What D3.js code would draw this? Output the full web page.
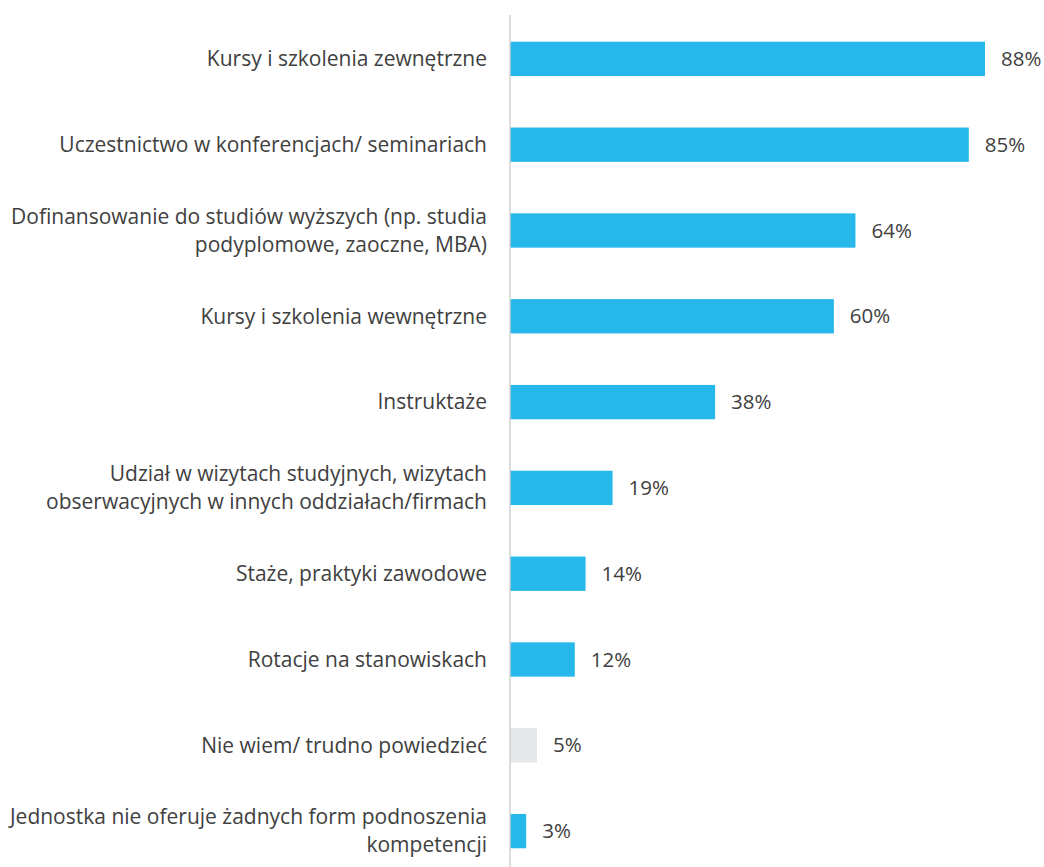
<!DOCTYPE html>
<html>
<head>
<meta charset="utf-8">
<script src="https://cdn.jsdelivr.net/npm/d3@7"></script>
<style>
  html, body { margin: 0; padding: 0; background: #ffffff; }
  svg { display: block; }
</style>
</head>
<body>
<svg id="chart" width="1044" height="867"></svg>
<script>
// Forms of competence development offered (share of respondents, %)
const categories = [
  ["Kursy i szkolenia zewnętrzne"],
  ["Uczestnictwo w konferencjach/ seminariach"],
  ["Dofinansowanie do studiów wyższych (np. studia", "podyplomowe, zaoczne, MBA)"],
  ["Kursy i szkolenia wewnętrzne"],
  ["Instruktaże"],
  ["Udział w wizytach studyjnych, wizytach", "obserwacyjnych w innych oddziałach/firmach"],
  ["Staże, praktyki zawodowe"],
  ["Rotacje na stanowiskach"],
  ["Nie wiem/ trudno powiedzieć"],
  ["Jednostka nie oferuje żadnych form podnoszenia", "kompetencji"]
];
const values = [88, 85, 64, 60, 38, 19, 14, 12, 5, 3];
const isNeutral = [false, false, false, false, false, false, false, false, true, false];

const svg = d3.select("#chart");
const font = "'Open Sans', sans-serif";

const x = d3.scaleLinear().domain([0, 88]).range([510, 985]);
const y = d3.scaleBand()
  .domain(d3.range(values.length))
  .range([16, 874])
  .paddingInner(0.6)
  .paddingOuter(0.3);

// bars
svg.selectAll("rect.bar")
  .data(values)
  .join("rect")
  .attr("class", "bar")
  .attr("x", x(0))
  .attr("y", (d, i) => y(i))
  .attr("width", d => x(d) - x(0))
  .attr("height", y.bandwidth())
  .attr("fill", (d, i) => isNeutral[i] ? "#e6e7ea" : "#26b8eb");

// vertical category axis line
svg.append("line")
  .attr("x1", x(0)).attr("x2", x(0))
  .attr("y1", 15).attr("y2", 867)
  .attr("stroke", "#d0d0d0")
  .attr("stroke-width", 1.5);

// value labels
svg.selectAll("text.val")
  .data(values)
  .join("text")
  .attr("class", "val")
  .attr("x", d => x(d) + 16)
  .attr("y", (d, i) => y(i) + y.bandwidth() / 2)
  .attr("dy", "0.35em")
  .attr("font-family", font)
  .attr("font-size", 20.5)
  .attr("fill", "#404040")
  .text(d => d + "%");

// category labels
const lineH = 28;
const lab = svg.selectAll("text.cat")
  .data(categories)
  .join("text")
  .attr("class", "cat")
  .attr("text-anchor", "end")
  .attr("font-family", font)
  .attr("font-size", 21)
  .attr("fill", "#404040");

lab.each(function (lines, i) {
  const cy = y(i) + y.bandwidth() / 2;
  const top = cy - (lines.length - 1) * lineH / 2;
  d3.select(this).selectAll("tspan")
    .data(lines)
    .join("tspan")
    .attr("x", 487)
    .attr("y", (d, k) => top + k * lineH)
    .attr("dy", "0.35em")
    .text(d => d);
});
</script>
</body>
</html>
